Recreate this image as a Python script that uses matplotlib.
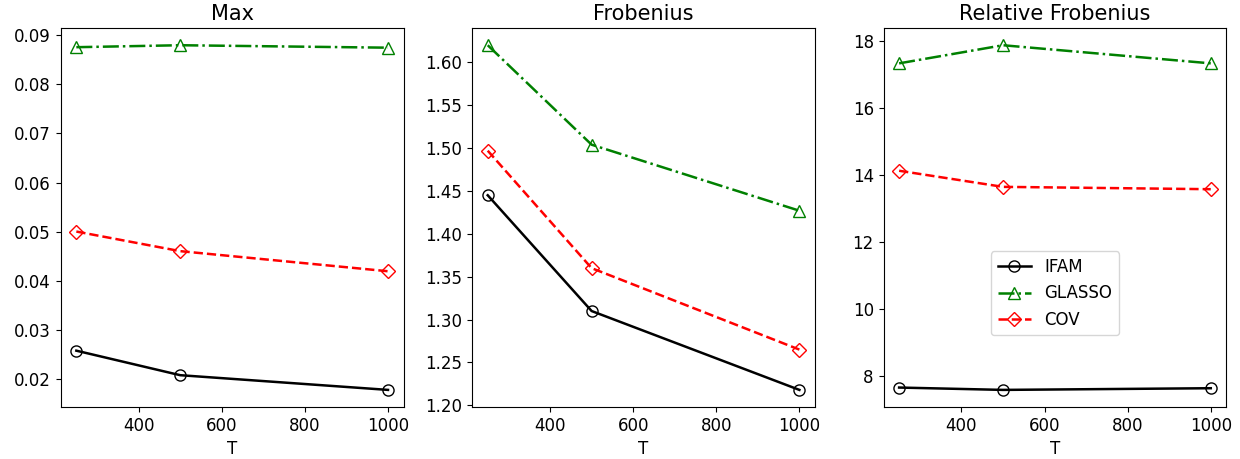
import numpy as np
import matplotlib.pyplot as plt

T = [250, 500, 1000]
titles = ['Max', 'Frobenius', 'Relative Frobenius']

ifam = [[0.0257, 0.0207, 0.0177],
        [1.445, 1.310, 1.218],
        [7.67, 7.60, 7.65]]
glasso = [[0.0876, 0.0880, 0.0875],
          [1.620, 1.504, 1.427],
          [17.33, 17.87, 17.33]]
cov = [[0.0500, 0.0460, 0.0419],
       [1.497, 1.360, 1.265],
       [14.13, 13.65, 13.58]]

plt.rcParams['font.size'] = 12

fig, axes = plt.subplots(1, 3, figsize=(12.4, 4.59), dpi=100)
fig.subplots_adjust(left=0.049, right=0.989, bottom=0.113, top=0.939, wspace=0.2)

for k, ax in enumerate(axes):
    ax.plot(T, ifam[k], 'k-', marker='o', mfc='none', ms=8, lw=1.8, label='IFAM')
    ax.plot(T, glasso[k], 'g-.', marker='^', mfc='none', ms=8, lw=1.8, label='GLASSO')
    ax.plot(T, cov[k], 'r--', marker='D', mfc='none', ms=7, lw=1.8, label='COV')
    ax.set_title(titles[k], fontsize=15)
    ax.set_xlabel('T')
    ax.set_xticks([400, 600, 800, 1000])

axes[0].set_yticks(np.arange(0.02, 0.091, 0.01))
axes[1].set_yticks(np.arange(1.20, 1.61, 0.05))
axes[2].set_yticks(np.arange(8, 19, 2))
axes[2].legend(loc='center', bbox_to_anchor=(0.5, 0.3))

plt.savefig('out.png')
